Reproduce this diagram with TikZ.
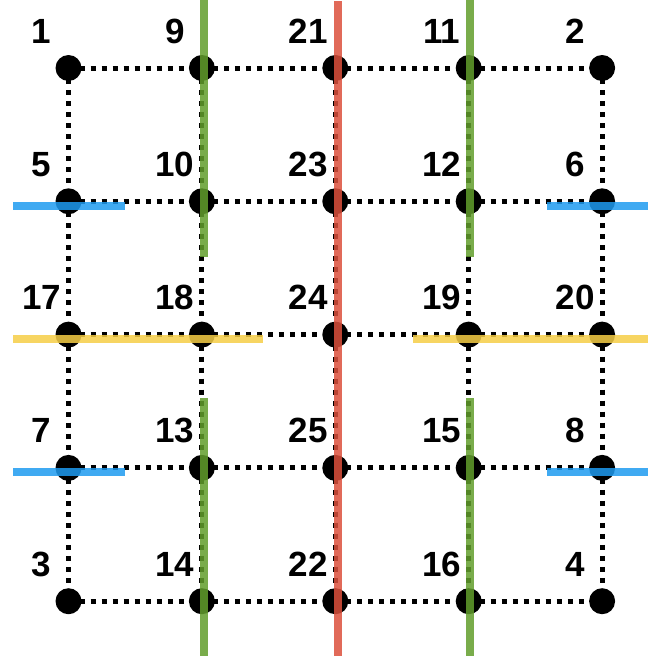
\documentclass[tikz,border=0pt]{standalone}
\usepackage{fontspec}
\setmainfont{Liberation Sans}
\begin{document}
\begin{tikzpicture}[x=1pt,y=-1pt,
  dotline/.style={line width=5pt, dash pattern=on 5pt off 6pt},
  vertex/.style={circle, fill=black, minimum size=26pt, inner sep=0pt},
  lbl/.style={font=\fontsize{35}{42}\selectfont\bfseries, anchor=base},
  greenline/.style={line width=8pt, draw={rgb,255:red,98;green,158;blue,44}, opacity=0.85},
  redline/.style={line width=8pt, draw={rgb,255:red,220;green,80;blue,60}, opacity=0.85},
  blueline/.style={line width=8pt, draw={rgb,255:red,30;green,155;blue,240}, opacity=0.85},
  yellowline/.style={line width=8pt, draw={rgb,255:red,246;green,206;blue,70}, opacity=0.85}]
\useasboundingbox (0,0) rectangle (648,656);
% vertex positions
\foreach \c in {0,...,4}{
  \foreach \r in {0,...,4}{
    \coordinate (p\c\r) at ({68.5+133.4*\c},{68+133.3*\r});
  }
}
% dotted grid edges
\foreach \r in {0,...,4}{
  \foreach \c [evaluate=\c as \n using int(\c+1)] in {0,...,3}{
    \draw[dotline] (p\c\r) -- (p\n\r);
  }
}
\foreach \c in {0,...,4}{
  \foreach \r [evaluate=\r as \n using int(\r+1)] in {0,...,3}{
    \draw[dotline] (p\c\r) -- (p\c\n);
  }
}
% vertices and labels
\foreach \name/\c/\r in {1/0/0,9/1/0,21/2/0,11/3/0,2/4/0,
                          5/0/1,10/1/1,23/2/1,12/3/1,6/4/1,
                          17/0/2,18/1/2,24/2/2,19/3/2,20/4/2,
                          7/0/3,13/1/3,25/2/3,15/3/3,8/4/3,
                          3/0/4,14/1/4,22/2/4,16/3/4,4/4/4}{
  \node[vertex] (v\name) at (p\c\r) {};
  \node[lbl] (l\name) at ([xshift=-27pt,yshift=25pt]p\c\r) {\name};
}
% coloured cut lines
\coordinate (g1a) at (204,0);   \coordinate (g1b) at (204,257);
\coordinate (g1c) at (204,398); \coordinate (g1d) at (204,656);
\coordinate (g2a) at (470,0);   \coordinate (g2b) at (470,257);
\coordinate (g2c) at (470,398); \coordinate (g2d) at (470,656);
\coordinate (ra) at (337.5,1);  \coordinate (rb) at (337.5,656);
\coordinate (b1a) at (13,205.5); \coordinate (b1b) at (125,205.5);
\coordinate (b2a) at (547,205.5); \coordinate (b2b) at (648,205.5);
\coordinate (b3a) at (13,472);  \coordinate (b3b) at (125,472);
\coordinate (b4a) at (547,472); \coordinate (b4b) at (648,472);
\coordinate (y1a) at (13,339);  \coordinate (y1b) at (263,339);
\coordinate (y2a) at (413,339); \coordinate (y2b) at (648,339);
\draw[greenline] (g1a) -- (g1b);
\draw[greenline] (g1c) -- (g1d);
\draw[greenline] (g2a) -- (g2b);
\draw[greenline] (g2c) -- (g2d);
\draw[redline] (ra) -- (rb);
\draw[blueline] (b1a) -- (b1b);
\draw[blueline] (b2a) -- (b2b);
\draw[blueline] (b3a) -- (b3b);
\draw[blueline] (b4a) -- (b4b);
\draw[yellowline] (y1a) -- (y1b);
\draw[yellowline] (y2a) -- (y2b);
\end{tikzpicture}
\end{document}
